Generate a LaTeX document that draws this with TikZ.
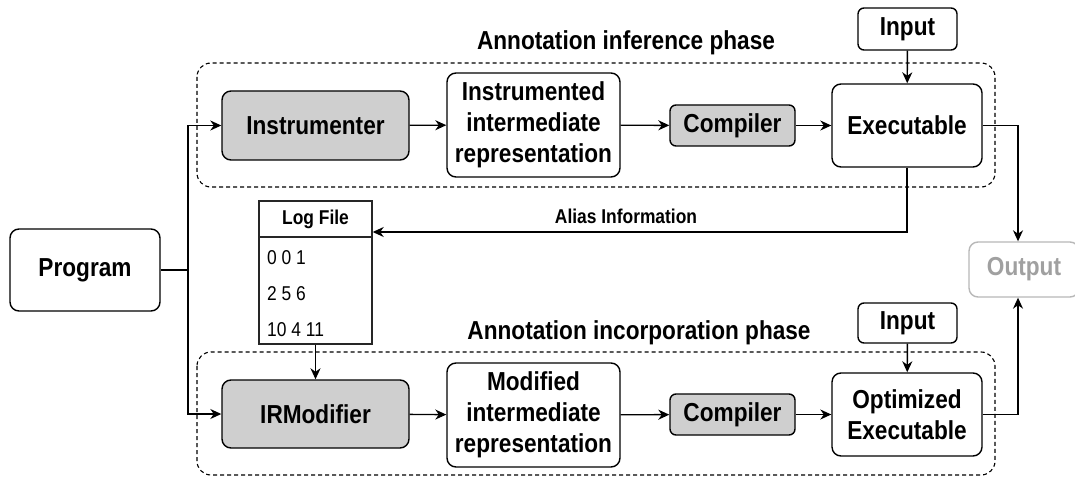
\documentclass[tikz,border=0pt]{standalone}
\usepackage{fontspec}
\setmainfont{Liberation Sans}[FakeStretch=0.87]
\usetikzlibrary{arrows.meta}
\definecolor{boxgray}{HTML}{CFCFCF}
\definecolor{outtext}{HTML}{A0A0A0}
\definecolor{outline}{HTML}{B8B8B8}
\tikzset{
  box/.style={draw, rounded corners=9pt, line width=1.4pt, align=center,
    font=\bfseries\fontsize{26}{31}\selectfont, inner sep=0pt},
  gbox/.style={box, fill=boxgray},
  arr/.style={-{Stealth[length=11pt,width=10pt,inset=3.5pt]}, line width=1.4pt},
  ln/.style={line width=1.4pt},
  phase/.style={draw, dashed, dash pattern=on 4pt off 3pt, rounded corners=14pt, line width=1.1pt},
  title/.style={font=\bfseries\fontsize{26}{31}\selectfont, inner sep=0pt},
  small/.style={font=\bfseries\fontsize{20}{24}\selectfont, inner sep=0pt},
  logrow/.style={font=\fontsize{20}{24}\selectfont, inner sep=0pt, anchor=west}
}
\begin{document}
\begin{tikzpicture}[x=1pt,y=-1pt]
\clip (0,0) rectangle (1075,478);
\fill[white] (0,0) rectangle (1075,478);

% phase frames
\draw[phase] (197,63) rectangle (995,187);
\draw[phase] (197,352) rectangle (995,475);
\node[title] (t1) at (626,43) {Annotation inference phase};
\node[title] (t2) at (639,333) {Annotation incorporation phase};

% nodes
\node[box, minimum width=150pt, minimum height=82pt] (prog) at (85,270) {Program};

\node[gbox, minimum width=187pt, minimum height=69pt] (ins) at (315.5,125.5) {Instrumenter};
\node[box, minimum width=173pt, minimum height=104pt] (iir) at (533.5,125) {Instrumented\\intermediate\\representation};
\node[gbox, rounded corners=6pt, minimum width=125pt, minimum height=41pt] (c1) at (732.5,125.5) {Compiler};
\node[box, minimum width=150pt, minimum height=83pt] (exe) at (907,125.5) {Executable};
\node[box, rounded corners=6pt, minimum width=99pt, minimum height=42pt] (in1) at (907.5,29) {Input};

\node[gbox, minimum width=187pt, minimum height=68pt] (irm) at (315.5,414) {IRModifier};
\node[box, minimum width=173pt, minimum height=104pt] (mir) at (533.5,415) {Modified\\intermediate\\representation};
\node[gbox, rounded corners=6pt, minimum width=125pt, minimum height=41pt] (c2) at (732.5,414.5) {Compiler};
\node[box, minimum width=150pt, minimum height=83pt] (oexe) at (907,414.5) {Optimized\\Executable};
\node[box, rounded corners=6pt, minimum width=99pt, minimum height=40pt] (in2) at (907.5,323) {Input};

\node[box, draw=outline, text=outtext, minimum width=110pt, minimum height=55pt] (out) at (1024,269.5) {Output};

% log file
\node[draw, line width=1.4pt, draw=black!85, minimum width=113pt, minimum height=143pt, inner sep=0pt] (log) at (315.5,272.5) {};
\draw[line width=1.4pt, black!85] (log.west |- 0,237) -- (log.east |- 0,237);
\node[small] (loghead) at (315.5,219) {Log File};
\node[logrow] (r1) at (267,258) {0 0 1};
\node[logrow] (r2) at (267,294) {2 5 6};
\node[logrow] (r3) at (267,330) {10 4 11};

% connectors
\coordinate (split) at (188,270);
\draw[ln] (prog.east) -- (split);
\draw[arr] (split) |- (ins.west);
\draw[arr] (split) |- (irm.west);
\draw[arr] (ins) -- (iir);
\draw[arr] (iir) -- (c1);
\draw[arr] (c1) -- (exe);
\draw[arr] (in1) -- (exe);
\draw[arr] (irm) -- (mir);
\draw[arr] (mir) -- (c2);
\draw[arr] (c2) -- (oexe);
\draw[arr] (in2) -- (oexe);
\draw[arr] (log.south) -- (irm.north -| log.south);

\coordinate (al) at (907,232);
\draw[arr] (exe.south) -- (al) -- (log.east |- al);
\node[small] (alias) at (626,216) {Alias Information};

\coordinate (ox) at (1018,125.5);
\coordinate (oy) at (1018,414.5);
\draw[arr] (exe.east) -- (ox) -- (ox |- out.north);
\draw[arr] (oexe.east) -- (oy) -- (oy |- out.south);
\end{tikzpicture}
\end{document}
